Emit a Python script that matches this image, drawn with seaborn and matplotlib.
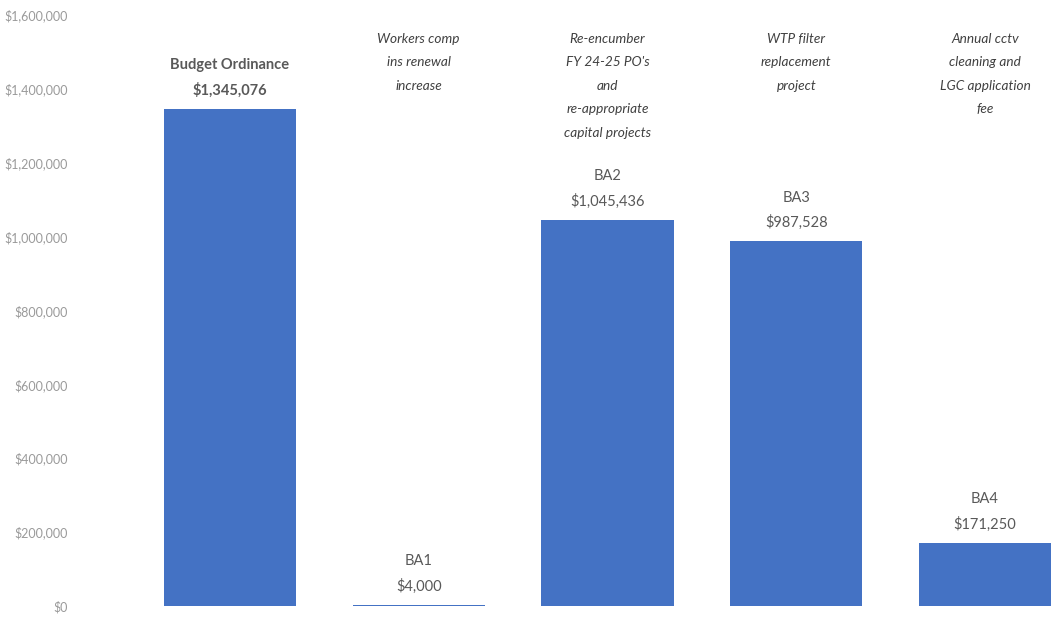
import matplotlib
matplotlib.use("Agg")
import matplotlib.pyplot as plt
import matplotlib.ticker as mticker
import matplotlib.transforms as mtransforms
import seaborn as sns
import pandas as pd

# Budget amendments and their amounts
categories = ["Budget Ordinance", "BA1", "BA2", "BA3", "BA4"]
amounts = [1345076, 4000, 1045436, 987528, 171250]
descriptions = [
    "",
    "Workers comp\nins renewal\nincrease",
    "Re-encumber\nFY 24-25 PO's\nand\nre-appropriate\ncapital projects",
    "WTP filter\nreplacement\nproject",
    "Annual cctv\ncleaning and\nLGC application\nfee",
]
y_ticks = [0, 200000, 400000, 600000, 800000, 1000000, 1200000, 1400000, 1600000]

sns.set_theme(style="white")
plt.rcParams["font.family"] = ["Lato", "DejaVu Sans"]

df = pd.DataFrame({"category": categories, "amount": amounts})

fig = plt.figure(figsize=(10.53, 6.19), dpi=100)
ax = fig.add_axes([0.066, 0.021, 0.934, 0.955])

sns.barplot(data=df, x="category", y="amount", color="#4472C4",
            saturation=1, width=0.70, linewidth=0, ax=ax)

ax.set_ylim(0, 1600000)
ax.set_xlim(-0.85, 4.36)
ax.set_yticks(y_ticks)
ax.yaxis.set_major_formatter(mticker.FuncFormatter(lambda v, p: f"${v:,.0f}"))
ax.tick_params(axis="y", length=0, pad=1, labelsize=9, labelcolor="#9A9A9A")
ax.set_xticks([])
ax.set_xlabel("")
ax.set_ylabel("")
for s in ax.spines.values():
    s.set_visible(False)

# Amount labels above each bar
for i, (cat, val) in enumerate(zip(categories, amounts)):
    weight = "bold" if i == 0 else "normal"
    ax.annotate(f"{cat}\n${val:,.0f}", xy=(i, val), xytext=(0, 8),
                textcoords="offset points", ha="center", va="bottom",
                fontsize=10.5, color="#595959", linespacing=1.85,
                fontweight=weight)

# Italic descriptions along the top
trans = mtransforms.blended_transform_factory(ax.transData, ax.transAxes)
for i, desc in enumerate(descriptions):
    if desc:
        ax.text(i, 0.970, desc, transform=trans, ha="center", va="top",
                fontsize=9.8, style="italic", color="#404040", linespacing=2.15)

fig.savefig("out.png", dpi=100)
